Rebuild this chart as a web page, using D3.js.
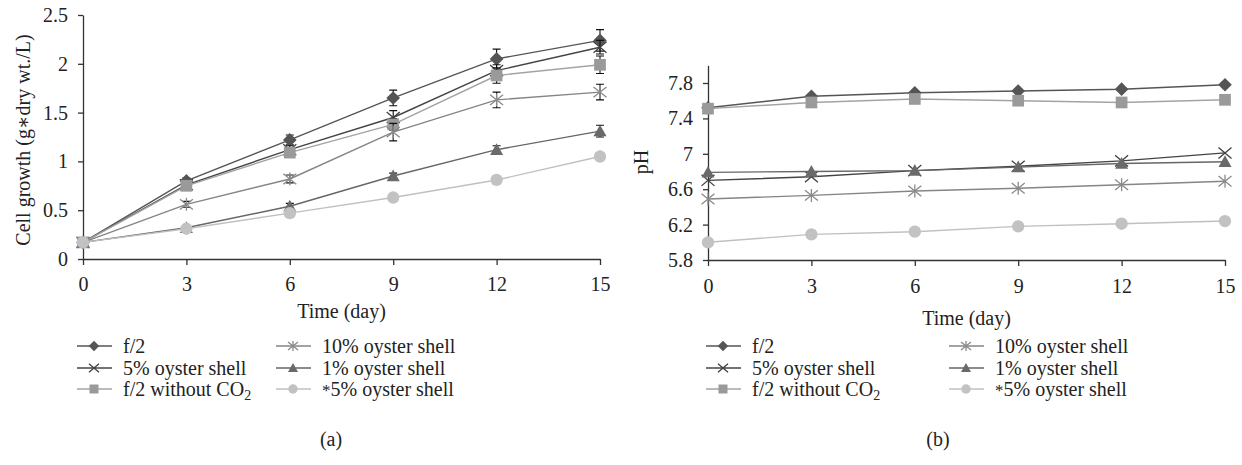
<!DOCTYPE html>
<html><head><meta charset="utf-8">
<script src="https://cdn.jsdelivr.net/npm/d3@7"></script>
<style>
body{margin:0;background:#fff}
text{font-family:"Liberation Serif","DejaVu Serif",serif;fill:#222}
</style>
</head><body>
<svg id="c" width="1242" height="465"></svg>
<script>
// ---------- data ----------
const days = [0, 3, 6, 9, 12, 15];
const seriesNames = ["f/2", "5% oyster shell", "f/2 without CO2", "10% oyster shell", "1% oyster shell", "*5% oyster shell"];

// (a) cell growth (g*dry wt./L)
const growthF2      = [0.17, 0.80, 1.22, 1.65, 2.05, 2.24];
const growth5pct    = [0.17, 0.76, 1.12, 1.45, 1.93, 2.17];
const growthNoCO2   = [0.17, 0.75, 1.09, 1.38, 1.88, 1.99];
const growth10pct   = [0.17, 0.56, 0.82, 1.30, 1.63, 1.71];
const growth1pct    = [0.17, 0.32, 0.54, 0.85, 1.12, 1.31];
const growthStar5   = [0.17, 0.31, 0.47, 0.63, 0.81, 1.05];
// (a) error bars (±)
const errF2    = [0.02, 0.03, 0.05, 0.08, 0.10, 0.11];
const err5pct  = [0.02, 0.03, 0.04, 0.07, 0.06, 0.07];
const errNoCO2 = [0.02, 0.03, 0.04, 0.06, 0.08, 0.09];
const err10pct = [0.02, 0.03, 0.04, 0.09, 0.08, 0.08];
const err1pct  = [0.01, 0.02, 0.03, 0.03, 0.04, 0.06];
const errStar5 = [0.01, 0.01, 0.02, 0.02, 0.02, 0.03];

// (b) pH
const phF2    = [7.52, 7.65, 7.69, 7.71, 7.73, 7.78];
const ph5pct  = [6.70, 6.74, 6.81, 6.86, 6.92, 7.01];
const phNoCO2 = [7.51, 7.58, 7.62, 7.60, 7.58, 7.61];
const ph10pct = [6.49, 6.53, 6.58, 6.61, 6.65, 6.69];
const ph1pct  = [6.79, 6.80, 6.81, 6.85, 6.89, 6.91];
const phStar5 = [6.00, 6.09, 6.12, 6.18, 6.21, 6.24];

const growthTicks = [0, 0.5, 1, 1.5, 2, 2.5];
const phTicks = [5.8, 6.2, 6.6, 7, 7.4, 7.8];
const dayTicks = [0, 3, 6, 9, 12, 15];

// ---------- styles ----------
const styles = [
  {marker:"diamond", fill:"#555555", line:"#555555"},
  {marker:"cross",   fill:"#3f3f3f", line:"#444444"},
  {marker:"square",  fill:"#9a9a9a", line:"#a3a3a3"},
  {marker:"star",    fill:"#8a8a8a", line:"#858585"},
  {marker:"triangle",fill:"#6a6a6a", line:"#666666"},
  {marker:"circle",  fill:"#c2c2c2", line:"#c0c0c0"}
];

const svg = d3.select("#c");
const FS = 20;

function drawMarker(g, type, x, y, s, st) {
  const h = s / 2;
  if (type === "diamond") {
    g.append("path").attr("d", `M${x},${y-h*1.05}L${x+h*1.05},${y}L${x},${y+h*1.05}L${x-h*1.05},${y}Z`).attr("fill", st.fill);
  } else if (type === "square") {
    g.append("rect").attr("x", x-h*0.9).attr("y", y-h*0.9).attr("width", h*1.8).attr("height", h*1.8).attr("fill", st.fill);
  } else if (type === "circle") {
    g.append("circle").attr("cx", x).attr("cy", y).attr("r", h*0.95).attr("fill", st.fill);
  } else if (type === "triangle") {
    g.append("path").attr("d", `M${x},${y-h}L${x+h},${y+h*0.8}L${x-h},${y+h*0.8}Z`).attr("fill", st.fill);
  } else if (type === "cross") {
    g.append("path").attr("d", `M${x-h},${y-h*0.85}L${x+h},${y+h*0.85}M${x-h},${y+h*0.85}L${x+h},${y-h*0.85}`)
      .attr("stroke", st.fill).attr("stroke-width", 1.3).attr("fill", "none");
  } else if (type === "star") {
    g.append("path").attr("d", `M${x-h},${y-h*0.8}L${x+h},${y+h*0.8}M${x-h},${y+h*0.8}L${x+h},${y-h*0.8}M${x},${y-h}L${x},${y+h}`)
      .attr("stroke", st.fill).attr("stroke-width", 1.3).attr("fill", "none");
  }
}

function panel(opt) {
  const g = svg.append("g");
  const x = d3.scaleLinear().domain([0, 15]).range([opt.x0, opt.x1]);
  const y = d3.scaleLinear().domain(opt.yDomain).range([opt.yBottom, opt.yTop]);

  const xAxis = g.append("g").attr("transform", `translate(0,${opt.yBottom})`)
    .call(d3.axisBottom(x).tickValues(dayTicks).tickSize(6).tickSizeOuter(0).tickPadding(opt.xPad).tickFormat(d3.format("d")));
  const yAxis = g.append("g").attr("transform", `translate(${opt.x0},0)`)
    .call(d3.axisLeft(y).tickValues(opt.yTicks).tickSize(5).tickSizeOuter(0).tickPadding(10).tickFormat(d => String(d)));
  [xAxis, yAxis].forEach(a => {
    a.selectAll("path.domain").attr("stroke", "#333").attr("stroke-width", 1.3);
    a.selectAll(".tick line").attr("stroke", "#333").attr("stroke-width", 1.3);
    a.selectAll(".tick text").attr("font-size", FS).attr("font-family", "Liberation Serif").attr("fill", "#222");
  });

  // axis titles
  g.append("text").attr("x", (opt.x0 + opt.x1) / 2).attr("y", opt.xTitleY).attr("text-anchor", "middle")
    .attr("font-size", FS).text("Time (day)");
  g.append("text").attr("transform", `translate(${opt.yTitleX},${opt.yTitleY}) rotate(-90)`)
    .attr("text-anchor", "middle").attr("font-size", FS).text(opt.yTitle);

  // series
  const line = d3.line().x((d, i) => x(days[i])).y(d => y(d));
  opt.series.forEach((vals, si) => {
    const st = styles[si];
    const sg = g.append("g");
    sg.append("path").attr("d", line(vals)).attr("fill", "none").attr("stroke", st.line).attr("stroke-width", 1.4);
    if (opt.errors) {
      const e = opt.errors[si];
      vals.forEach((v, i) => {
        const cx = x(days[i]);
        const y1 = y(v + e[i]), y2 = y(v - e[i]);
        sg.append("path").attr("d", `M${cx},${y1}L${cx},${y2}M${cx-4},${y1}L${cx+4},${y1}M${cx-4},${y2}L${cx+4},${y2}`)
          .attr("stroke", "#111").attr("stroke-width", 1.1).attr("fill", "none");
      });
    }
    vals.forEach((v, i) => drawMarker(sg, st.marker, x(days[i]), y(v), 13, st));
  });

  // legend
  const cols = [opt.legX0, opt.legX1];
  const rows = [346, 368, 389];
  seriesNames.forEach((name, si) => {
    const st = styles[si];
    const cx = cols[Math.floor(si / 3)], cy = rows[si % 3];
    const lg = g.append("g");
    lg.append("line").attr("x1", cx).attr("x2", cx + 35).attr("y1", cy).attr("y2", cy)
      .attr("stroke", st.line).attr("stroke-width", 1.4);
    drawMarker(lg, st.marker, cx + 17, cy, 10, st);
    const t = lg.append("text").attr("x", cx + 46).attr("y", cy + 6.5).attr("font-size", FS);
    if (name === "f/2 without CO2") {
      t.append("tspan").text("f/2 without CO");
      t.append("tspan").attr("font-size", FS * 0.7).attr("dy", 4).text("2");
    } else if (name.startsWith("*")) {
      t.append("tspan").attr("font-size", FS * 0.85).text("*");
      t.append("tspan").text(name.slice(1));
    } else {
      t.text(name);
    }
  });
  g.append("text").attr("x", opt.capX).attr("y", 446).attr("text-anchor", "middle").attr("font-size", FS).text(opt.caption);
}

panel({
  x0: 83, x1: 600, yBottom: 259, yTop: 15, yDomain: [0, 2.5], yTicks: growthTicks,
  xPad: 12, xTitleY: 318, yTitleX: 30, yTitleY: 140, yTitle: "Cell growth (g\u2217dry wt./L)",
  series: [growthF2, growth5pct, growthNoCO2, growth10pct, growth1pct, growthStar5],
  errors: [errF2, err5pct, errNoCO2, err10pct, err1pct, errStar5],
  legX0: 77, legX1: 276, capX: 331, caption: "(a)"
});
panel({
  x0: 708, x1: 1225, yBottom: 260, yTop: 65.3, yDomain: [5.8, 8.0], yTicks: phTicks,
  xPad: 13, xTitleY: 325, yTitleX: 648, yTitleY: 162, yTitle: "pH",
  series: [phF2, ph5pct, phNoCO2, ph10pct, ph1pct, phStar5],
  errors: null,
  legX0: 706, legX1: 949, capX: 938, caption: "(b)"
});
</script>
</body></html>
